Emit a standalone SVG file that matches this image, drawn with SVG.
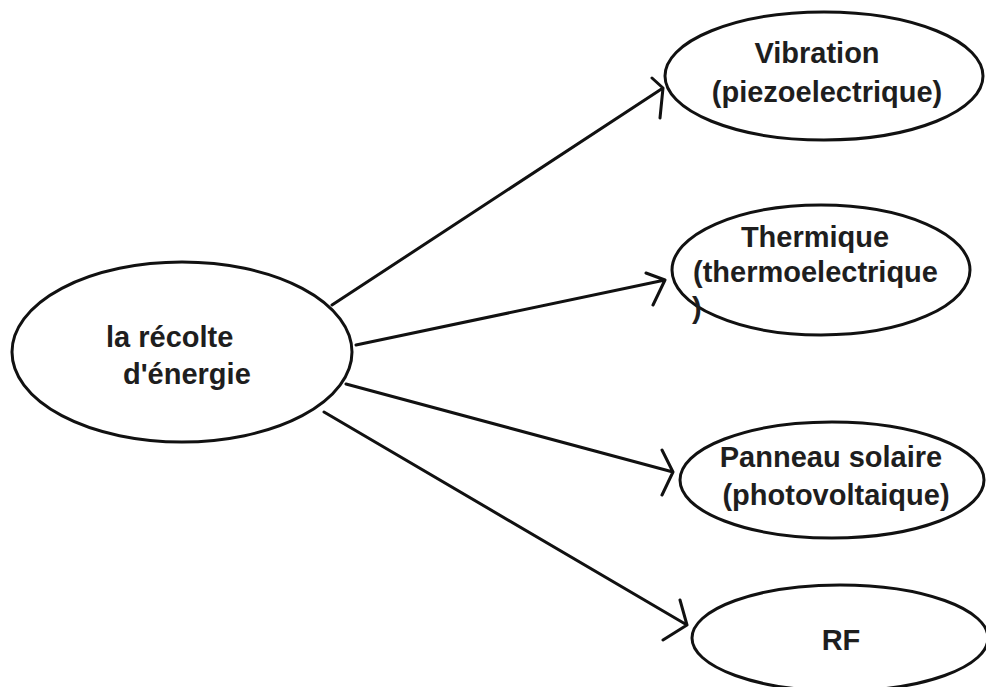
<svg xmlns="http://www.w3.org/2000/svg" width="986" height="687" viewBox="0 0 986 687">
<style>
.n{fill:#fff;stroke:#111;stroke-width:3}
.t{font-family:"Liberation Sans",Arial,sans-serif;font-weight:bold;font-size:29px;fill:#1e1e1e}
.c{fill:none;stroke:#111;stroke-width:3;stroke-linecap:round;stroke-linejoin:round}
</style>
<rect width="986" height="687" fill="#fff"/>
<g id="connectors">
<path class="c" d="M332 305L663 88M652 78L663 88L660 118"/>
<path class="c" d="M356 345L665 280M646 273L665 280L653 305"/>
<path class="c" d="M346 384L673 472M662 450L673 472L662 495"/>
<path class="c" d="M324 412L687 625M680 600L687 625L663 640"/>
</g>
<g id="main">
<ellipse class="n" cx="182" cy="352" rx="170" ry="90"/>
<text class="t" x="106" y="347">la récolte</text>
<text class="t" x="123" y="384">d'énergie</text>
</g>
<g id="vibration">
<ellipse class="n" cx="824" cy="76" rx="159" ry="64"/>
<text class="t" x="817" y="63" text-anchor="middle">Vibration</text>
<text class="t" x="827" y="102" text-anchor="middle">(piezoelectrique)</text>
</g>
<g id="thermique">
<ellipse class="n" cx="821" cy="270" rx="149" ry="65"/>
<text class="t" x="815" y="247" text-anchor="middle">Thermique</text>
<text class="t" x="693" y="282">(thermoelectrique</text>
<text class="t" x="692" y="318">)</text>
</g>
<g id="solaire">
<ellipse class="n" cx="832" cy="480" rx="152" ry="58"/>
<text class="t" x="831" y="467" text-anchor="middle">Panneau solaire</text>
<text class="t" x="836" y="505" text-anchor="middle">(photovoltaique)</text>
</g>
<g id="rf">
<ellipse class="n" cx="840" cy="638" rx="148" ry="53"/>
<text class="t" x="841" y="650" text-anchor="middle">RF</text>
</g>
</svg>
